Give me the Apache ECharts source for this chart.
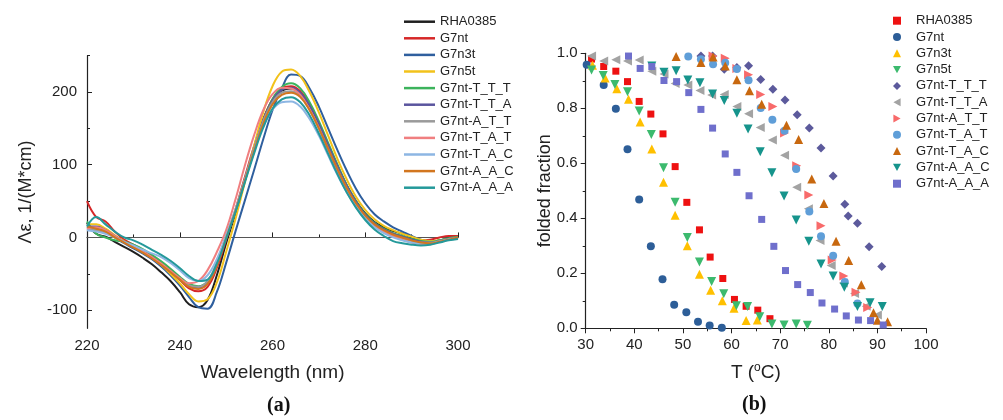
<!DOCTYPE html>
<html><head><meta charset="utf-8">
<script src="https://cdn.jsdelivr.net/npm/echarts@6/dist/echarts.min.js"></script>
<style>
html,body{margin:0;padding:0;background:#fff;}
#a{position:absolute;left:0;top:0;width:520px;height:420px;}
#b{position:absolute;left:520px;top:0;width:483px;height:420px;}
</style></head>
<body>
<div id="a"></div><div id="b"></div>
<script>
// ---------- Panel (a): CD spectra ----------
const wavelength = [220,222,224,226,228,230,232,234,236,238,240,242,244,246,248,250,252,254,256,258,260,262,264,266,268,270,272,274,276,278,280,282,284,286,288,290,292,294,296,298,300];
const cdRHA0385 = [20,5,1,-6,-13,-20,-28,-37,-48,-60,-75,-92,-96,-86,-52,-8,33,78,122,162,189,202,205,199,182,157,128,99,72,50,33,21,14,9,5,0,-4,-6,-4,-1,1];
const cdG7nt = [50,28,22,8,-3,-10,-17,-25,-35,-45,-58,-70,-74,-68,-42,-3,38,82,125,162,190,205,208,201,183,157,127,98,70,48,30,18,10,5,1,-3,-4,-3,0,2,2];
const cdG7n3t = [15,12,8,0,-8,-15,-22,-30,-40,-52,-66,-82,-96,-98,-75,-35,8,50,92,135,175,205,224,222,205,180,150,120,92,67,47,32,22,14,8,2,-3,-6,-5,-2,0];
const cdG7n5t = [18,18,12,3,-5,-12,-20,-28,-38,-50,-63,-78,-88,-85,-62,-20,25,75,125,172,208,228,231,222,200,172,140,108,80,56,38,25,16,10,5,1,-3,-5,-4,-2,0];
const cdTTT = [22,5,0,-4,-6,-10,-16,-24,-33,-43,-54,-64,-67,-60,-35,2,35,77,120,160,190,207,212,205,186,160,130,100,72,50,32,20,12,6,2,-2,-5,-6,-4,-1,1];
const cdTTA = [15,15,10,2,-6,-12,-20,-28,-37,-47,-58,-67,-70,-63,-38,0,36,78,121,160,188,203,206,199,181,156,127,98,71,49,31,19,11,5,1,-3,-6,-7,-5,-2,0];
const cdATT = [12,10,6,0,-7,-13,-20,-28,-37,-47,-57,-66,-68,-60,-36,2,38,80,122,160,186,199,201,194,176,151,122,94,68,46,29,17,9,3,-1,-5,-7,-7,-5,-2,0];
const cdTAT = [12,14,10,2,-6,-12,-19,-27,-36,-46,-56,-63,-60,-45,-20,10,52,98,140,175,197,206,205,196,176,150,120,91,65,44,28,16,8,2,-3,-7,-9,-9,-6,-3,-1];
const cdTAC = [10,8,5,0,-6,-11,-17,-22,-27,-35,-45,-56,-60,-52,-30,3,38,78,118,153,176,186,187,180,163,140,113,86,62,42,26,14,6,0,-4,-7,-8,-8,-6,-3,-1];
const cdAAC = [15,12,8,0,-7,-14,-21,-29,-38,-48,-58,-68,-71,-64,-39,-1,36,77,118,156,183,196,199,193,175,150,122,94,68,47,30,18,10,4,0,-4,-7,-8,-6,-3,0];
const cdAAA = [15,28,18,8,0,-4,-10,-17,-24,-32,-42,-53,-60,-58,-36,-2,35,75,115,151,177,190,193,186,168,143,115,87,62,41,24,11,2,-5,-8,-10,-11,-10,-7,-4,-2];
const cdNames = ['RHA0385','G7nt','G7n3t','G7n5t','G7nt-T_T_T','G7nt-T_T_A','G7nt-A_T_T','G7nt-T_A_T','G7nt-T_A_C','G7nt-A_A_C','G7nt-A_A_A'];
const cdValues = [cdRHA0385,cdG7nt,cdG7n3t,cdG7n5t,cdTTT,cdTTA,cdATT,cdTAT,cdTAC,cdAAC,cdAAA];
const cdColors = ['#1f1f1f','#d62728','#2f5f9e','#f2c21b','#3cb35c','#5a559e','#9a9a9a','#f07f80','#8db6e3','#d2761f','#24999a'];
const cdYLabels = [-100,0,100,200];
const cdYMinor = [-50,50,150,250];

// ---------- Panel (b): melting curves ----------
const tRHA = [31.2,33.7,36.2,38.6,41.0,43.4,45.9,48.4,50.8,53.4,55.6,58.2,60.6,63.0,65.4,67.9];
const fRHA = [0.979,0.952,0.935,0.897,0.825,0.779,0.707,0.588,0.458,0.358,0.259,0.181,0.105,0.080,0.066,0.035];
const tG7nt = [30.2,33.7,36.2,38.6,41.0,43.4,45.8,48.2,50.7,53.1,55.5,58.0];
const fG7nt = [0.958,0.885,0.798,0.651,0.468,0.298,0.178,0.086,0.058,0.024,0.010,0.002];
const tG7n3t = [31.4,34.0,36.4,38.8,41.2,43.6,46.0,48.4,50.9,53.4,55.7,58.1,60.5,63.0,65.3];
const fG7n3t = [0.957,0.910,0.871,0.833,0.750,0.652,0.531,0.411,0.300,0.197,0.138,0.100,0.073,0.028,0.030];
const tG7n5t = [31.2,33.6,36.0,38.6,41.0,43.5,46.0,48.4,50.9,53.4,55.9,58.4,61.0,63.3,65.8,68.3,70.8,73.3,75.6];
const fG7n5t = [0.939,0.919,0.887,0.860,0.790,0.705,0.584,0.458,0.330,0.241,0.170,0.126,0.082,0.079,0.042,0.016,0.012,0.016,0.011];
const tTTT = [53.7,56.1,58.5,61.1,63.5,66.0,68.5,71.0,73.5,76.0,78.4,80.9,83.3,84.0,85.9,88.3,90.9];
const fTTT = [0.990,0.990,0.942,0.948,0.955,0.905,0.869,0.830,0.777,0.728,0.656,0.554,0.451,0.408,0.382,0.297,0.225];
const tTTA = [31.2,33.7,36.2,38.6,41.0,43.6,46.1,48.4,51.0,53.5,55.9,58.5,61.1,63.5,65.9,68.4,70.9,73.4,75.8,78.2,80.5,83.0,85.3,87.7,90.0];
const fTTA = [0.990,0.972,0.977,0.972,0.976,0.935,0.925,0.890,0.885,0.865,0.848,0.850,0.807,0.780,0.730,0.685,0.629,0.513,0.435,0.319,0.228,0.165,0.127,0.080,0.048];
const tATT = [56.2,58.7,61.1,63.5,66.0,68.5,70.9,73.4,75.9,78.4,80.7,83.1,85.6,88.0];
const fATT = [0.990,0.982,0.945,0.922,0.850,0.807,0.710,0.591,0.485,0.373,0.248,0.190,0.131,0.076];
const tTAT = [51.1,53.7,56.2,58.7,61.1,63.5,66.0,68.4,70.9,73.3,76.0,78.4,80.9,83.3,85.9];
const fTAT = [0.988,0.978,0.960,0.966,0.943,0.902,0.801,0.758,0.718,0.579,0.425,0.335,0.264,0.168,0.090];
const tTAC = [48.6,53.7,56.2,58.7,61.1,63.7,66.2,71.3,73.8,76.5,79.0,81.5,84.1,86.7,89.2,90.0,92.1];
const fTAC = [0.988,0.967,0.987,0.954,0.904,0.864,0.815,0.738,0.687,0.543,0.454,0.317,0.247,0.158,0.057,0.029,0.024];
const tAAC = [43.6,46.1,48.6,51.0,53.5,56.1,58.5,61.1,63.4,65.9,68.3,70.8,73.3,75.9,78.4,80.9,83.2,85.9,88.5,91.0];
const fAAC = [0.954,0.931,0.937,0.903,0.893,0.852,0.828,0.782,0.725,0.642,0.566,0.481,0.394,0.317,0.234,0.190,0.149,0.079,0.093,0.079];
const tAAA = [38.8,41.2,43.6,46.1,48.7,51.2,53.7,56.1,58.7,61.1,63.6,66.2,68.7,71.1,73.6,76.2,78.6,81.2,83.6,86.1,88.6,91.2];
const fAAA = [0.990,0.945,0.952,0.901,0.897,0.857,0.796,0.728,0.634,0.567,0.482,0.396,0.298,0.210,0.159,0.130,0.092,0.070,0.045,0.030,0.028,0.012];
const mtNames = cdNames;
const mtT = [tRHA,tG7nt,tG7n3t,tG7n5t,tTTT,tTTA,tATT,tTAT,tTAC,tAAC,tAAA];
const mtF = [fRHA,fG7nt,fG7n3t,fG7n5t,fTTT,fTTA,fATT,fTAT,fTAC,fAAC,fAAA];
const mtColors = ['#ee1111','#2d5e98','#ffc000','#3cba6e','#5c5a9c','#a3a3a3','#f86a6a','#5f9ed8','#c8680f','#16948c','#6f6fcc'];
const mtSymbols = ['rect','circle','triangle','path://M0,0L2,0L1,1.8Z','diamond','path://M0,1L1.8,0L1.8,2Z','path://M0,0L1.8,1L0,2Z','circle','triangle','path://M0,0L2,0L1,1.8Z','rect'];
const mtSizes = [7,8,9,9,9,9,9,8,9,9,7];

const FONT = '"Liberation Sans", Arial, sans-serif';
const AX = '#222';

// ---------- chart a ----------
const ca = echarts.init(document.getElementById('a'), null, {renderer:'canvas'});
const seriesA = cdNames.map((n,i)=>({
  name:n, type:'line', symbol:'none', smooth:0.4,
  xAxisIndex:0, yAxisIndex:0,
  lineStyle:{color:cdColors[i], width:2}, itemStyle:{color:cdColors[i]},
  data: wavelength.map((w,k)=>[w, cdValues[i][k]]),
  z: 3
}));
seriesA[0].markLine = {silent:true, symbol:'none', label:{show:false},
  lineStyle:{color:'#555', width:1, type:'solid'}, data:[{yAxis:0}], z:2};
ca.setOption({
  animation:false,
  textStyle:{fontFamily:FONT},
  grid:{left:87, top:55.7, width:371, height:272.6},
  legend:{orient:'vertical', left:404, top:15.2, padding:0, icon:'rect', itemWidth:31, itemHeight:2.5, itemGap:3.6,
    selectedMode:false, data:cdNames,
    textStyle:{fontFamily:FONT, fontSize:13, color:'#222'}},
  xAxis:[{type:'value', min:220, max:300, interval:20,
    name:'Wavelength (nm)', nameLocation:'middle', nameGap:35,
    nameTextStyle:{fontFamily:FONT, fontSize:19, color:'#222'},
    axisLine:{lineStyle:{color:AX, width:1.2}},
    axisTick:{inside:true, length:5, lineStyle:{color:AX}},
    minorTick:{show:true, splitNumber:2, length:3, lineStyle:{color:AX}},
    axisLabel:{fontFamily:FONT, fontSize:15, color:'#222', margin:10},
    splitLine:{show:false}}],
  yAxis:[{type:'value', min:-125, max:250,
    name:'Λε, 1/(M*cm)', nameLocation:'middle', nameGap:52, nameRotate:90,
    nameTextStyle:{fontFamily:FONT, fontSize:18, color:'#222'},
    axisLine:{show:true, lineStyle:{color:AX, width:1.2}},
    axisTick:{show:true, inside:true, length:5, customValues:cdYLabels, lineStyle:{color:AX}},
    axisLabel:{fontFamily:FONT, fontSize:15, color:'#222', margin:10, customValues:cdYLabels},
    splitLine:{show:false}},
   {type:'value', min:-125, max:250, position:'left',
    axisLine:{show:false},
    axisTick:{show:true, inside:true, length:3, customValues:cdYMinor, lineStyle:{color:AX}},
    axisLabel:{show:false}, splitLine:{show:false}}],
  graphic:[{type:'text', left:267, top:396, style:{text:'(a)', fontFamily:'"Liberation Serif", "DejaVu Serif", serif', fontSize:20, fontWeight:'bold', fill:'#111'}}],
  series: seriesA
});

// ---------- chart b ----------
const cb = echarts.init(document.getElementById('b'), null, {renderer:'canvas'});
const seriesB = mtNames.map((n,i)=>({
  name:n, type:'scatter', symbol:mtSymbols[i], symbolSize:mtSizes[i],
  itemStyle:{color:mtColors[i], opacity:1},
  data: mtT[i].map((t,k)=>[t, mtF[i][k]])
}));
cb.setOption({
  animation:false,
  textStyle:{fontFamily:FONT},
  grid:{left:65.7, top:53.3, width:340.3, height:275},
  legend:{orient:'vertical', left:373, top:14.2, padding:0, itemWidth:8, itemHeight:8, itemGap:3.3,
    selectedMode:false, data:mtNames,
    textStyle:{fontFamily:FONT, fontSize:13, color:'#222', padding:[0,0,0,10]}},
  xAxis:{type:'value', min:30, max:100, interval:10,
    name:'{n|T (}{s|o}{n|C)}', nameLocation:'middle', nameGap:33,
    nameTextStyle:{rich:{n:{fontFamily:FONT, fontSize:19, color:'#222', lineHeight:22},
                         s:{fontFamily:FONT, fontSize:12, color:'#222', verticalAlign:'top', lineHeight:22}}},
    axisLine:{lineStyle:{color:AX, width:1.2}},
    axisTick:{inside:false, length:5, lineStyle:{color:AX}},
    minorTick:{show:true, splitNumber:2, length:3, lineStyle:{color:AX}},
    axisLabel:{fontFamily:FONT, fontSize:15, color:'#222', margin:9},
    splitLine:{show:false}},
  yAxis:{type:'value', min:0, max:1, interval:0.2,
    name:'folded fraction', nameLocation:'middle', nameGap:32, nameRotate:90, nameMoveOverlap:false,
    nameTextStyle:{fontFamily:FONT, fontSize:18, color:'#222'},
    axisLine:{show:true, lineStyle:{color:AX, width:1.2}},
    axisTick:{show:true, inside:false, length:5, lineStyle:{color:AX}},
    minorTick:{show:true, splitNumber:2, length:3, lineStyle:{color:AX}},
    axisLabel:{fontFamily:FONT, fontSize:15, color:'#222', margin:8, formatter:v=>v.toFixed(1)},
    splitLine:{show:false}},
  graphic:[{type:'text', left:222, top:395, style:{text:'(b)', fontFamily:'"Liberation Serif", "DejaVu Serif", serif', fontSize:20, fontWeight:'bold', fill:'#111'}}],
  series: seriesB
});
</script>
</body></html>
